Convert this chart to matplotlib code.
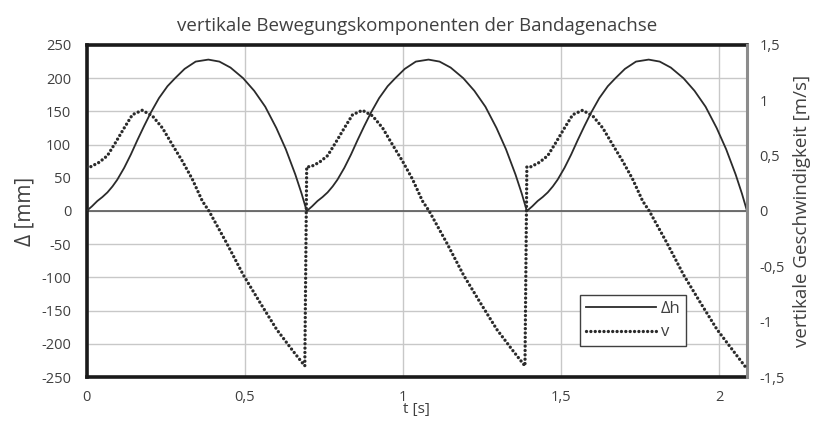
import matplotlib.pyplot as plt
from matplotlib.lines import Line2D

plt.rcParams['font.family'] = ['Open Sans', 'DejaVu Sans']

# Δh [mm] over t [s] (three identical strokes)
t_h = [0.000, 0.017, 0.034, 0.050, 0.066, 0.082, 0.097, 0.119, 0.140, 0.161,
       0.182, 0.203, 0.229, 0.256, 0.280, 0.310, 0.345, 0.385, 0.420, 0.455,
       0.495, 0.530, 0.565, 0.600, 0.630, 0.660, 0.680, 0.696,
       0.713, 0.730, 0.746, 0.762, 0.778, 0.793, 0.815, 0.836, 0.857,
       0.878, 0.899, 0.925, 0.952, 0.976, 1.006, 1.041, 1.081, 1.116, 1.151,
       1.191, 1.226, 1.261, 1.296, 1.326, 1.356, 1.376, 1.392,
       1.409, 1.426, 1.442, 1.458, 1.474, 1.489, 1.511, 1.532, 1.553,
       1.574, 1.595, 1.621, 1.648, 1.672, 1.702, 1.737, 1.777, 1.812, 1.847,
       1.887, 1.922, 1.957, 1.992, 2.022, 2.052, 2.072, 2.088]
dh = [0, 7, 15, 21, 28, 37, 47, 65, 85, 107,
      128, 148, 170, 188, 200, 214, 225, 228, 225, 216,
      200, 181, 157, 125, 93, 55, 26, 0,
      7, 15, 21, 28, 37, 47, 65, 85, 107,
      128, 148, 170, 188, 200, 214, 225, 228, 225, 216,
      200, 181, 157, 125, 93, 55, 26, 0,
      7, 15, 21, 28, 37, 47, 65, 85, 107,
      128, 148, 170, 188, 200, 214, 225, 228, 225, 216,
      200, 181, 157, 125, 93, 55, 26, 0]

# v [m/s] over t [s]
t_v = [0.000, 0.013, 0.040, 0.066, 0.092, 0.119, 0.145, 0.176, 0.208, 0.240,
       0.271, 0.303, 0.334, 0.366, 0.387, 0.443, 0.496, 0.549, 0.601, 0.654,
       0.690,
       0.696, 0.709, 0.736, 0.762, 0.788, 0.815, 0.841, 0.872, 0.904, 0.936,
       0.967, 0.999, 1.030, 1.062, 1.083, 1.139, 1.192, 1.245, 1.297, 1.350,
       1.386,
       1.392, 1.405, 1.432, 1.458, 1.484, 1.511, 1.537, 1.568, 1.600, 1.632,
       1.663, 1.695, 1.726, 1.758, 1.779, 1.835, 1.888, 1.941, 1.993, 2.046,
       2.086]
v = [0.40, 0.40, 0.44, 0.50, 0.62, 0.75, 0.87, 0.91, 0.86, 0.75,
     0.60, 0.45, 0.29, 0.09, 0.00, -0.29, -0.58, -0.83, -1.07, -1.27,
     -1.40,
     0.40, 0.40, 0.44, 0.50, 0.62, 0.75, 0.87, 0.91, 0.86, 0.75,
     0.60, 0.45, 0.29, 0.09, 0.00, -0.29, -0.58, -0.83, -1.07, -1.27,
     -1.40,
     0.40, 0.40, 0.44, 0.50, 0.62, 0.75, 0.87, 0.91, 0.86, 0.75,
     0.60, 0.45, 0.29, 0.09, 0.00, -0.29, -0.58, -0.83, -1.07, -1.27,
     -1.42]

x_ticks = [0, 0.5, 1, 1.5, 2]
x_labels = ['0', '0,5', '1', '1,5', '2']
left_ticks = [250, 200, 150, 100, 50, 0, -50, -100, -150, -200, -250]
right_ticks = [1.5, 1, 0.5, 0, -0.5, -1, -1.5]
right_labels = ['1,5', '1', '0,5', '0', '-0,5', '-1', '-1,5']

text_col = '#404040'
line_col = '#2b2b2b'
dots = (0, (0.01, 1.3))

fig = plt.figure(figsize=(8.21, 4.22), dpi=100)
ax = fig.add_axes([0.1054, 0.1066, 0.8045, 0.7868])
ax2 = ax.twinx()

ax.set_xlim(0, 2.088)
ax.set_ylim(-250, 250)
ax2.set_ylim(-1.5, 1.5)

ax.set_xticks(x_ticks, x_labels)
ax.set_yticks(left_ticks, [str(k) for k in left_ticks])
ax2.set_yticks(right_ticks, right_labels)
ax.grid(True, color='#c8c8c8', lw=1)
ax.axhline(0, color='#595959', lw=1.2, zorder=2)

ax.plot(t_h, dh, color=line_col, lw=1.3, zorder=3)
ax2.plot(t_v, v, color=line_col, lw=2.4, linestyle=dots,
         dash_capstyle='round', zorder=3)

for a in (ax, ax2):
    a.tick_params(length=0, labelsize=10.5, labelcolor=text_col)
ax.tick_params(axis='y', pad=11)
ax.tick_params(axis='x', pad=9)
ax2.tick_params(axis='y', pad=9)

for side in ('left', 'bottom', 'top'):
    ax.spines[side].set_linewidth(2.6)
    ax.spines[side].set_color('#1a1a1a')
    ax2.spines[side].set_visible(False)
ax2.spines['right'].set_linewidth(2.2)
ax2.spines['right'].set_color('#8c8c8c')
ax.spines['right'].set_visible(False)

ax.set_title('vertikale Bewegungskomponenten der Bandagenachse',
             fontsize=13.5, color=text_col, pad=10)
ax.set_xlabel('t [s]', fontsize=11, color=text_col, labelpad=-2)
ax.set_ylabel('Δ [mm]', fontsize=15, color=text_col, labelpad=4)
ax2.set_ylabel('vertikale Geschwindigkeit [m/s]', fontsize=13.5,
               color=text_col, labelpad=6)

handles = [Line2D([], [], color=line_col, lw=1.3),
           Line2D([], [], color=line_col, lw=2.4, linestyle=dots,
                  dash_capstyle='round')]
leg = ax2.legend(handles, ['Δh', 'v'], loc='upper left',
                 bbox_to_anchor=(580 / 821, 1 - 295 / 422),
                 bbox_transform=fig.transFigure, fancybox=False,
                 framealpha=1, edgecolor='#404040', fontsize=12,
                 handlelength=4.2, handletextpad=0.3, borderpad=0.35,
                 labelspacing=0.45, borderaxespad=0)
leg.get_frame().set_linewidth(1)
for txt in leg.get_texts():
    txt.set_color(text_col)

fig.savefig('out.png', dpi=100)
